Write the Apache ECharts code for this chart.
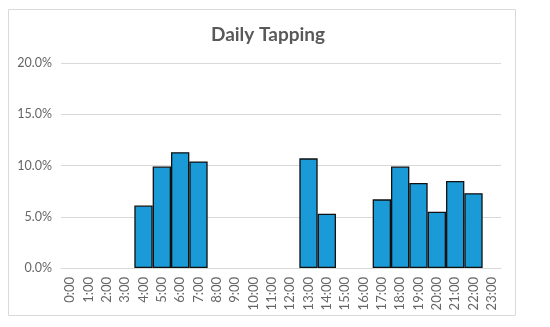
<!DOCTYPE html>
<html><head><meta charset="utf-8">
<script src="https://cdn.jsdelivr.net/npm/echarts@6/dist/echarts.min.js"></script>
<style>html,body{margin:0;padding:0;background:#fff}#c{width:550px;height:327px}</style>
</head><body><div id="c"></div>
<script>
const categories = ["0:00","1:00","2:00","3:00","4:00","5:00","6:00","7:00","8:00","9:00","10:00","11:00","12:00","13:00","14:00","15:00","16:00","17:00","18:00","19:00","20:00","21:00","22:00","23:00"];
const values = [0,0,0,0,6.1,9.9,11.3,10.4,0,0,0,0,0,10.7,5.3,0,0,6.7,9.9,8.3,5.5,8.5,7.3,0];
const yTicks = [0,5,10,15,20];
const title = "Daily Tapping";

const barData = values.map(v => v === 0 ? {value:0, itemStyle:{borderWidth:0}} : v);

const chart = echarts.init(document.getElementById('c'), null, {renderer:'canvas'});
chart.setOption({
  animation:false,
  textStyle:{fontFamily:'Lato'},
  graphic:[{type:'rect',shape:{x:8.5,y:9.5,width:507,height:306},style:{fill:'none',stroke:'#d9d9d9',lineWidth:1},silent:true}],
  title:{text:title,left:263,top:20,textAlign:'center',textStyle:{fontFamily:'Lato',fontSize:19,fontWeight:'bold',color:'#595959'}},
  grid:{left:61,right:49,top:63,bottom:59,containLabel:false},
  xAxis:{type:'category',data:categories,
    axisLine:{show:true,lineStyle:{color:'#d9d9d9',width:1}},
    axisTick:{show:false},
    axisLabel:{rotate:90,interval:0,color:'#666666',fontSize:13,fontFamily:'Lato',margin:9}},
  yAxis:{type:'value',min:yTicks[0],max:yTicks[yTicks.length-1],interval:5,
    axisLine:{show:false},axisTick:{show:false},
    splitLine:{lineStyle:{color:'#d9d9d9',width:1}},
    axisLabel:{formatter:v=>v.toFixed(1)+'%',color:'#666666',fontSize:12.5,fontFamily:'Lato',margin:9}},
  series:[{type:'bar',data:barData,barWidth:'100%',
    itemStyle:{color:'#1a9bd7',borderColor:'#111',borderWidth:1.3}}]
});
</script></body></html>
